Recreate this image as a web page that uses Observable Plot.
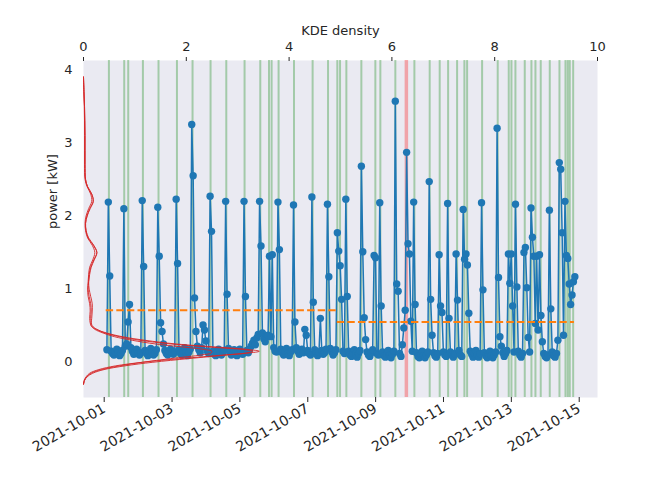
<!DOCTYPE html>
<html><head><meta charset="utf-8">
<script src="https://cdn.jsdelivr.net/npm/d3@7"></script>
<script src="https://cdn.jsdelivr.net/npm/@observablehq/plot@0.6"></script>
<style>
body{margin:0;background:#fff}
#wrap{position:relative;width:664px;height:498px}
#wrap svg{position:absolute;left:0;top:0}
</style>
</head><body><div id="wrap"></div>
<script>
// ---- data ----
const seriesStart = "2021-10-01T00:30:00Z"; // first hourly sample
const day0  = [0.17,2.19,1.18,0.15,0.12,0.10,0.14,0.18,0.13,0.09,0.12,0.16,2.10,0.22,0.25,0.55,0.79,0.20,0.15,0.11,0.14,0.18,0.12,0.10];
const day1  = [0.13,2.21,1.31,0.16,0.12,0.09,0.15,0.19,0.14,0.10,0.12,0.17,2.12,1.45,0.54,0.42,0.25,0.16,0.12,0.10,0.15,0.18,0.13,0.11];
const day2  = [0.14,2.23,1.35,0.17,0.12,0.10,0.15,0.20,0.13,0.09,0.14,0.18,3.25,2.55,0.88,0.42,0.22,0.17,0.13,0.20,0.51,0.44,0.29,0.15];
const day3  = [0.12,2.27,1.79,0.15,0.11,0.09,0.14,0.18,0.12,0.10,0.13,0.16,2.20,0.93,0.19,0.14,0.10,0.13,0.17,0.12,0.09,0.14,0.18,0.13];
const day4  = [0.11,2.20,0.90,0.16,0.13,0.18,0.22,0.26,0.30,0.24,0.33,0.38,2.20,1.59,0.40,0.32,0.28,0.35,0.37,1.45,0.35,1.47,0.20,0.15];
const day5  = [0.14,2.19,1.54,0.18,0.13,0.10,0.15,0.19,0.12,0.09,0.14,0.17,2.15,0.55,0.20,0.15,0.11,0.14,0.18,0.13,0.45,0.37,0.16,0.12];
const day6  = [0.10,2.26,0.82,0.17,0.12,0.09,0.14,0.60,0.16,0.11,0.13,0.18,2.16,1.17,0.19,0.14,0.10,0.13,0.17,1.77,1.52,1.32,0.86,0.15];
const day7  = [0.12,2.23,0.90,0.15,0.10,0.08,0.13,0.17,0.11,0.07,0.12,0.16,2.68,1.51,0.61,0.31,0.14,0.10,0.08,0.13,0.17,1.46,1.43,0.12];
const day8  = [0.10,2.18,0.77,0.14,0.09,0.07,0.12,0.16,0.10,0.06,0.11,0.15,3.57,1.07,0.97,0.12,0.08,0.24,0.47,0.71,2.87,1.62,1.48,0.56];
const day9  = [0.15,2.19,0.79,0.13,0.08,0.06,0.11,0.15,0.09,0.06,0.10,0.14,2.47,0.86,0.37,0.13,0.09,0.07,0.12,1.47,0.77,0.68,0.14,0.10];
const day10 = [0.08,2.17,0.60,0.14,0.10,0.07,0.12,1.48,0.85,0.16,0.10,0.08,2.09,1.41,1.48,1.33,0.67,0.15,0.11,0.07,0.12,0.16,0.10,0.07];
const day11 = [0.12,2.18,0.99,0.13,0.09,0.06,0.11,0.15,0.09,0.06,0.10,0.14,3.20,1.16,0.35,0.22,0.13,0.08,0.12,0.16,1.48,1.08,1.48,0.77];
const day12 = [0.14,2.16,1.03,0.15,0.10,0.07,0.12,1.50,1.57,1.02,0.34,0.14,2.11,1.71,1.45,0.53,1.45,0.44,1.47,0.64,0.28,0.12,0.08,0.06];
const day13 = [0.10,2.08,0.73,0.14,0.09,0.07,0.12,0.30,2.73,2.64,1.77,0.37,2.20,1.46,1.42,1.07,0.79,0.92,1.10,1.17];

// event markers (days after 2021-10-01 00:00 UTC)
const greenEvents = [0.080,0.531,0.649,1.082,1.542,2.085,2.545,3.076,3.539,4.078,4.541,4.798,4.875,5.081,5.535,6.084,6.538,6.812,6.892,7.078,7.520,7.933,8.080,8.522,9.083,9.534,9.829,10.077,10.342,10.557,10.637,11.079,11.539,11.864,11.944,12.061,12.336,12.533,12.651,12.807,13.073,13.359,13.536,13.604,13.663,13.763];
const redEvents = [8.847];

// segment means
const segStart = [0, 6.81];
const segEnd   = [6.81, 13.80];
const segMean  = [0.71, 0.55];

// KDE curves: power grid and densities
const kdePower = [-0.3,-0.25,-0.2,-0.15,-0.1,-0.05,0,0.05,0.1,0.125,0.15,0.175,0.2,0.25,0.3,0.35,0.4,0.45,0.5,0.6,0.7,0.8,0.9,1.0,1.1,1.2,1.3,1.4,1.5,1.6,1.7,1.8,1.9,2.0,2.1,2.2,2.3,2.4,2.5,2.7,2.9,3.1,3.3,3.5,3.7,3.9];
const kdeA = [0,0.01,0.05,0.12,0.30,0.62,1.15,1.90,2.75,3.20,3.42,3.20,2.75,1.80,1.20,0.75,0.45,0.25,0.15,0.12,0.13,0.12,0.09,0.08,0.09,0.10,0.12,0.18,0.22,0.17,0.08,0.04,0.03,0.05,0.10,0.16,0.14,0.07,0.03,0.02,0.02,0.02,0.02,0.015,0.005,0];
const kdeB = [0,0.02,0.07,0.18,0.40,0.80,1.35,2.05,2.80,3.15,3.30,3.10,2.60,1.70,1.10,0.70,0.42,0.26,0.17,0.14,0.15,0.14,0.11,0.09,0.10,0.12,0.15,0.21,0.26,0.19,0.09,0.05,0.04,0.07,0.12,0.19,0.16,0.08,0.04,0.03,0.03,0.03,0.02,0.02,0.01,0];
const kdeC = [0,0.02,0.06,0.15,0.35,0.70,1.15,1.70,2.30,2.48,2.50,2.35,2.05,1.40,0.95,0.60,0.38,0.22,0.15,0.16,0.17,0.17,0.14,0.11,0.10,0.11,0.14,0.20,0.26,0.20,0.10,0.05,0.04,0.07,0.13,0.19,0.16,0.08,0.04,0.03,0.03,0.03,0.03,0.02,0.01,0];

const dateTicks = ["2021-10-01","2021-10-03","2021-10-05","2021-10-07","2021-10-09","2021-10-11","2021-10-13","2021-10-15"];
const kdeTicks = [0,2,4,6,8,10];
const yTicks = [0,1,2,3,4];

// ---- build ----
const HOUR = 36e5, DAY = 864e5;
const t0 = Date.UTC(2021, 9, 1);
const start = Date.parse(seriesStart);
const power = [day0,day1,day2,day3,day4,day5,day6,day7,day8,day9,day10,day11,day12,day13].flat();
const series = power.map((v, i) => ({t: new Date(start + i * HOUR), v}));
const toDate = d => new Date(t0 + d * DAY);
const segs = segMean.map((m, i) => ({x1: toDate(segStart[i]), x2: toDate(segEnd[i]), y: m}));
const kde = [["A", kdeA], ["B", kdeB], ["C", kdeC]].flatMap(([k, arr]) => arr.map((d, i) => ({k, d, p: kdePower[i]})));

const W = 664, H = 498;
const margins = {marginLeft: 83, marginRight: 67, marginTop: 60, marginBottom: 101};
const yDomain = [-0.482, 4.126];
const font = {fontFamily: "DejaVu Sans", fontSize: "13px", color: "#262626"};

const mainPlot = Plot.plot({
  width: W, height: H, ...margins,
  style: {...font, background: "white"},
  x: {type: "utc", domain: [toDate(-0.669), toDate(14.48)]},
  y: {domain: yDomain},
  marks: [
    Plot.frame({fill: "#EAEAF2", stroke: null}),
    Plot.ruleX(greenEvents.map(toDate), {stroke: "green", strokeOpacity: 0.3, strokeWidth: 2}),
    Plot.ruleX(redEvents.map(toDate), {stroke: "red", strokeOpacity: 0.3, strokeWidth: 3.5}),
    Plot.line(series, {x: "t", y: "v", stroke: "#1f77b4", strokeWidth: 1.5}),
    Plot.dot(series, {x: "t", y: "v", r: 3.7, fill: "#1f77b4", stroke: null}),
    Plot.ruleY(segs, {x1: "x1", x2: "x2", y: "y", stroke: "#ff7f0e", strokeWidth: 2, strokeDasharray: "7.4,3.2"}),
    Plot.axisX({ticks: dateTicks.map(s => new Date(s + "T00:00:00Z")), tickFormat: d3.utcFormat("%Y-%m-%d"), tickRotate: -30, tickSize: 5, tickPadding: 5, dx: -2, label: null, stroke: "#262626", fill: "#262626", fontSize: 14}),
    Plot.axisY({ticks: yTicks, tickFormat: d3.format("d"), tickSize: 0, tickPadding: 11, label: null, fill: "#262626", fontSize: 13}),
    Plot.text(["power [kW]"], {text: d => d, frameAnchor: "left", dx: -31, rotate: -90, fontSize: 13, fill: "#262626"})
  ]
});

const kdePlot = Plot.plot({
  width: W, height: H, ...margins,
  style: {...font, background: "transparent"},
  x: {domain: [0, 10]},
  y: {domain: yDomain, axis: null},
  marks: [
    Plot.line(kde, {x: "d", y: "p", z: "k", stroke: "#d62728", strokeWidth: 0.9, curve: "catmull-rom", clip: true}),
    Plot.axisX({anchor: "top", ticks: kdeTicks, tickSize: 4, tickPadding: 6, label: null, stroke: "#262626", fill: "#262626", fontSize: 13}),
    Plot.text(["KDE density"], {text: d => d, frameAnchor: "top", dy: -35, fontSize: 13, fill: "#262626"})
  ]
});

const wrap = document.getElementById("wrap");
wrap.appendChild(mainPlot);
wrap.appendChild(kdePlot);
</script>
</body></html>
